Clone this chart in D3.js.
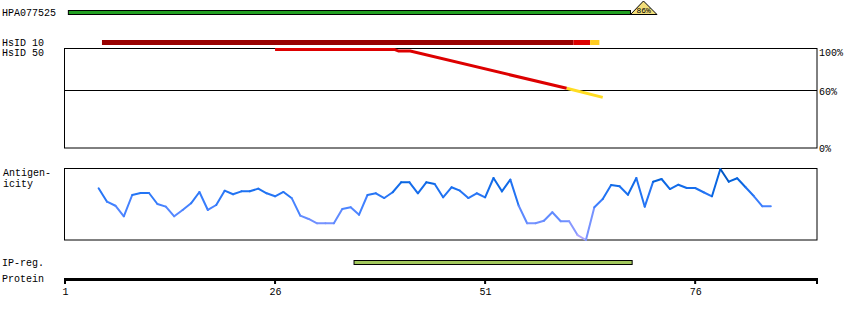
<!DOCTYPE html>
<html><head><meta charset="utf-8">
<script src="https://cdn.jsdelivr.net/npm/d3@7"></script>
<style>
html,body{margin:0;padding:0;background:#fff;}
text{font-family:"Liberation Mono","DejaVu Sans Mono",monospace;font-size:10px;fill:#000;}
</style></head>
<body><svg id="c" width="850" height="320"></svg>
<script>
// ---- data ----
const proteinRange = [1, 90.5];
const tickLabels = [1, 26, 51, 76];
const hpaName = "HPA077525";
const hpaSpan = [1.4, 68.3];
const hpaPct = "86%";
const hsid10Segments = [
  {from: 5.4, to: 61.5, cls: "dark"},
  {from: 61.5, to: 63.5, cls: "mid"},
  {from: 63.5, to: 64.6, cls: "low"}
];
const hsid50Pos = [26, 40.2, 40.7, 42.1, 60.7, 65.0];
const hsid50Ident = [98.6, 98.6, 97.1, 97.1, 61.6, 52.4];
const identTicks = ["100%", "60%", "0%"];
const ipRegion = [35.4, 68.5];
const antigenStart = 5;
const antigenicity = [
  0.718,0.532,0.476,0.329,0.625,0.653,0.653,0.5,0.463,0.329,
  0.417,0.51,0.667,0.417,0.486,0.685,0.635,0.676,0.676,0.713,
  0.649,0.607,0.667,0.579,0.338,0.292,0.232,0.232,0.232,0.431,
  0.454,0.351,0.625,0.649,0.583,0.663,0.801,0.801,0.649,0.801,
  0.778,0.593,0.732,0.685,0.583,0.649,0.593,0.861,0.676,0.838,
  0.476,0.232,0.232,0.268,0.385,0.26,0.26,0.069,0.0,0.454,
  0.569,0.764,0.746,0.629,0.861,0.463,0.81,0.847,0.708,0.768,
  0.722,0.722,0.663,0.607,0.986,0.81,0.857,0.732,0.607,0.468,0.468
];

// ---- drawing ----
const svg = d3.select("#c");
const x = d3.scaleLinear().domain(proteinRange).range([65, 817]);
const yId = d3.scaleLinear().domain([0, 60, 100]).range([148, 90, 48]);
const yAg = d3.scaleLinear().domain([0, 1]).range([240, 168]);
const agColor = d3.scaleLinear()
  .domain([0, 0.25, 0.5, 0.7, 0.85, 1])
  .range(["#b4a8ff", "#7090ff", "#3f80ff", "#1a70f0", "#0060d8", "#0a4898"]);

// labels
svg.append("text").attr("x", 2).attr("y", 16).text(hpaName);
svg.append("text").attr("x", 2).attr("y", 45.5).text("HsID 10");
svg.append("text").attr("x", 2).attr("y", 55.5).text("HsID 50");
svg.append("text").attr("x", 3).attr("y", 176).text("Antigen-");
svg.append("text").attr("x", 3).attr("y", 186.5).text("icity");
svg.append("text").attr("x", 2).attr("y", 266).text("IP-reg.");
svg.append("text").attr("x", 2).attr("y", 282).text("Protein");

// HPA bar + triangle
svg.append("rect").attr("x", x(hpaSpan[0])).attr("y", 10.5)
  .attr("width", x(hpaSpan[1]) - x(hpaSpan[0])).attr("height", 4)
  .attr("fill", "#22a022").attr("stroke", "#000").attr("stroke-width", 1);
const tx = x(hpaSpan[1]);
svg.append("path")
  .attr("d", `M${tx},14.5 L${tx+13},1 L${tx+26.5},14.5 Z`)
  .attr("fill", "#f2de7a").attr("stroke", "#000").attr("stroke-width", 1);
svg.append("text").attr("x", tx + 13.2).attr("y", 13).attr("text-anchor", "middle")
  .style("font-size", "8px").text(hpaPct);

// HsID 10 bar
const c10 = {dark: "#990000", mid: "#dd0000", low: "#ffcc22"};
svg.selectAll(".h10").data(hsid10Segments).enter().append("rect")
  .attr("x", d => x(d.from)).attr("y", 40)
  .attr("width", d => x(d.to) - x(d.from)).attr("height", 5)
  .attr("fill", d => c10[d.cls]);

// identity box
svg.append("rect").attr("x", 64.5).attr("y", 48.5).attr("width", 752.5).attr("height", yId(0) - 48.5)
  .attr("fill", "none").attr("stroke", "#000").attr("stroke-width", 1);
svg.append("line").attr("x1", 64.5).attr("x2", 817).attr("y1", yId(60) + 0.5).attr("y2", yId(60) + 0.5)
  .attr("stroke", "#000").attr("stroke-width", 1);
const idLabelY = [56, 94.5, 152];
identTicks.forEach((t, i) => svg.append("text").attr("x", 819).attr("y", idLabelY[i]).text(t));

// HsID 50 line (red above 60%, yellow below)
const pts = hsid50Pos.map((p, i) => [x(p), yId(hsid50Ident[i])]);
const line = d3.line();
const red = pts.filter((p, i) => hsid50Ident[i] >= 60);
const lastRed = red[red.length - 1];
const yel = [lastRed].concat(pts.filter((p, i) => hsid50Ident[i] < 60));
svg.append("path").attr("d", line(yel)).attr("fill", "none")
  .attr("stroke", "#ffdd22").attr("stroke-width", 3);
svg.append("path").attr("d", line(red)).attr("fill", "none")
  .attr("stroke", "#dd0000").attr("stroke-width", 3);

// antigenicity box
svg.append("rect").attr("x", 64.5).attr("y", 168.5).attr("width", 752.5).attr("height", 71.5)
  .attr("fill", "none").attr("stroke", "#000").attr("stroke-width", 1);
const agPts = antigenicity.map((v, i) => ({r: antigenStart + i, v}));
for (let i = 0; i < agPts.length - 1; i++) {
  const a = agPts[i], b = agPts[i + 1];
  svg.append("line")
    .attr("x1", x(a.r)).attr("y1", yAg(a.v))
    .attr("x2", x(b.r)).attr("y2", yAg(b.v))
    .attr("stroke", agColor((a.v + b.v) / 2)).attr("stroke-width", 2)
    .attr("stroke-linecap", "round");
}

// IP region
svg.append("rect").attr("x", x(ipRegion[0])).attr("y", 260.5)
  .attr("width", x(ipRegion[1]) - x(ipRegion[0])).attr("height", 4)
  .attr("fill", "#a2c85c").attr("stroke", "#000").attr("stroke-width", 1);

// protein axis
svg.append("rect").attr("x", 64).attr("y", 278).attr("width", 754).attr("height", 3).attr("fill", "#000");
const tickPos = tickLabels.concat([proteinRange[1]]);
svg.selectAll(".tk").data(tickPos).enter().append("rect")
  .attr("x", d => x(d) - 1).attr("y", 278).attr("width", 2).attr("height", 6).attr("fill", "#000");
svg.selectAll(".tl").data(tickLabels).enter().append("text")
  .attr("x", d => x(d) + 0.5).attr("y", 295).attr("text-anchor", "middle").text(d => d);
</script></body></html>
